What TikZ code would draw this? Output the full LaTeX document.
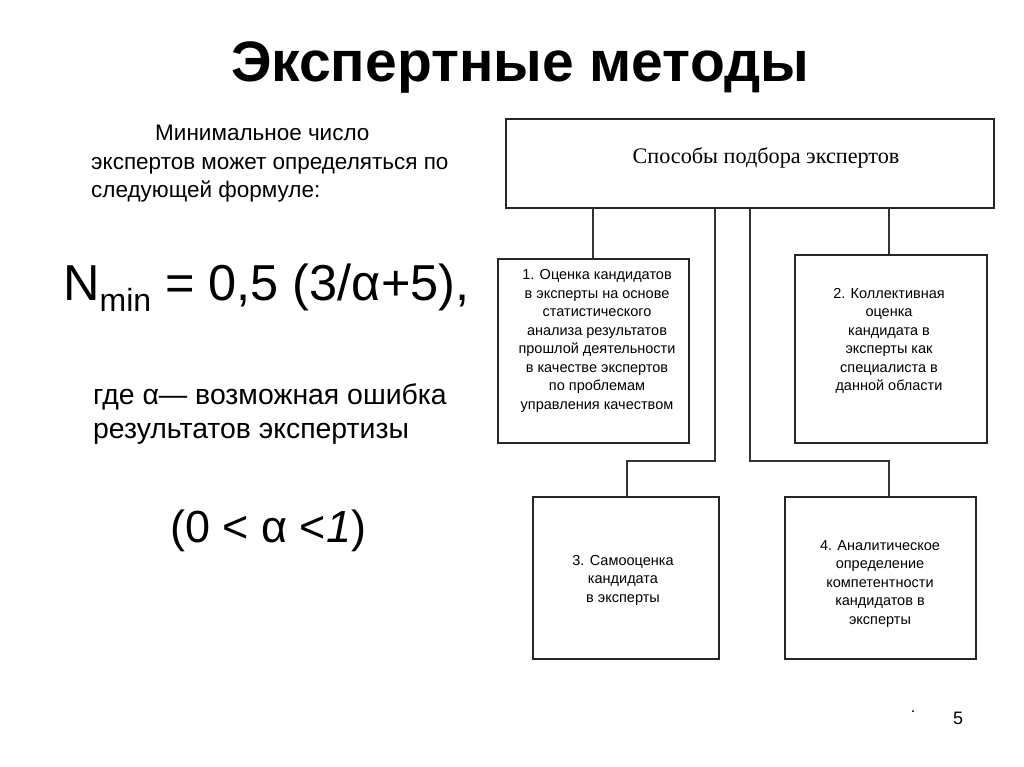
\documentclass[tikz,border=0pt]{standalone}
\usepackage{fontspec}
\setmainfont{Liberation Sans}
\newfontfamily\serifbox{Liberation Serif}
\begin{document}
\begin{tikzpicture}[x=1pt,y=-1pt,
  box/.style={draw=black!85, line width=1.1pt, inner sep=0pt},
  conn/.style={draw=black!80, line width=1.1pt},
  boxtext/.style={align=center, inner sep=0pt, font=\fontsize{14.5}{18.5}\selectfont},
  body/.style={anchor=base west, inner sep=0pt}]
\useasboundingbox (0,0) rectangle (1024,767);
% title
\node[inner sep=0pt, font=\fontsize{57}{62}\selectfont\bfseries] (title) at (520,68) {Экспертные методы};
% left text
\node[body, font=\fontsize{22.5}{28}\selectfont] (l1) at (155,141) {Минимальное число};
\node[body, font=\fontsize{22.5}{28}\selectfont] (l2) at (91,170) {экспертов может определяться по};
\node[body, font=\fontsize{22.5}{28}\selectfont] (l3) at (91,198) {следующей формуле:};
\node[body, font=\fontsize{50.5}{56}\selectfont] (f1) at (63,300) {N\raisebox{-11pt}{\fontsize{32}{36}\selectfont min} = 0,5 (3/α+5),};
\node[body, font=\fontsize{28.4}{34}\selectfont] (g1) at (93,404) {где α— возможная ошибка};
\node[body, font=\fontsize{28.4}{34}\selectfont] (g2) at (93,438) {результатов экспертизы};
\node[body, font=\fontsize{45}{50}\selectfont] (ineq) at (170,542) {(0 < α <\textit{1})};
% page number
\node[inner sep=0pt, font=\fontsize{18}{20}\selectfont] (pn) at (958,718) {5};
\node[inner sep=0pt, font=\fontsize{16}{18}\selectfont] (dot) at (913,712) {.};
% boxes
\node[box, minimum width=488pt, minimum height=89pt] (top) at (750,163.5) {};
\node[inner sep=0pt, font=\serifbox\fontsize{22.2}{24}\selectfont] (toptext) at (766,158) {Способы подбора экспертов};
\node[box, minimum width=191pt, minimum height=184pt] (b1) at (593.5,351) {};
\node[boxtext] (t1) at (597,341) {1. Оценка кандидатов\\в эксперты на основе\\статистического\\анализа результатов\\прошлой деятельности\\в качестве экспертов\\по проблемам\\управления качеством};
\node[box, minimum width=192pt, minimum height=188pt] (b2) at (891,349) {};
\node[boxtext] (t2) at (889,341) {2. Коллективная\\оценка\\кандидата в\\эксперты как\\специалиста в\\данной области};
\node[box, minimum width=186pt, minimum height=162pt] (b3) at (626,578) {};
\node[boxtext] (t3) at (623,580) {3. Самооценка\\кандидата\\в эксперты};
\node[box, minimum width=191pt, minimum height=162pt] (b4) at (880.5,578) {};
\node[boxtext] (t4) at (880,584) {4. Аналитическое\\определение\\компетентности\\кандидатов в\\эксперты};
% connectors
\coordinate (c1) at (593,0);
\coordinate (c2) at (889,0);
\coordinate (j3) at (715,461);
\coordinate (j4) at (750,461);
\coordinate (c3) at (627,0);
\draw[conn] (top.south -| c1) -- (b1.north -| c1);
\draw[conn] (top.south -| c2) -- (b2.north -| c2);
\draw[conn] (top.south -| j3) -- (j3) -- (j3 -| c3) -- (b3.north -| c3);
\draw[conn] (top.south -| j4) -- (j4) -- (j4 -| c2) -- (b4.north -| c2);
\end{tikzpicture}
\end{document}
